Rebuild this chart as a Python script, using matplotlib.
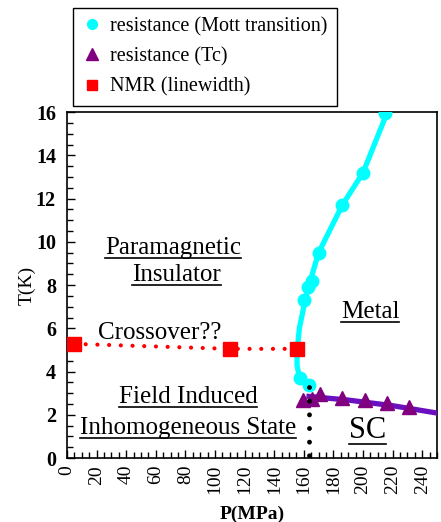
import matplotlib
matplotlib.use("Agg")
from matplotlib import pyplot as plt
from matplotlib.lines import Line2D
from matplotlib.ticker import MultipleLocator

plt.rcParams['font.family'] = ['Liberation Serif', 'DejaVu Serif']

# resistance (Mott transition) puntos
mott_p = [215, 200, 186, 170, 165.5, 163, 160, 157.4, 163.5]
mott_t = [15.95, 13.2, 11.7, 9.5, 8.2, 7.9, 7.3, 3.7, 3.38]
# curva guia
mott_curve_p = [217, 200, 186, 170, 163.5, 160, 157, 155.5, 155.4, 156.5, 157.4, 160, 163.5]
mott_curve_t = [16.1, 13.2, 11.7, 9.5, 8.0, 7.0, 6.0, 5.0, 4.3, 3.9, 3.7, 3.5, 3.38]

# resistance (Tc)
tc_p = [159.5, 165.5, 171, 186, 201, 216, 231]
tc_t = [2.68, 2.75, 2.95, 2.78, 2.68, 2.55, 2.36]
tc_curve_p = [163.5, 190, 220, 250]
tc_curve_t = [2.85, 2.68, 2.42, 2.08]

# NMR (linewidth)
nmr_p = [4.7, 110, 155.4]
nmr_t = [5.28, 5.05, 5.05]

# linea punteada vertical
vert_p = [163.5, 163.5]
vert_t = [3.3, 0.0]

fig = plt.figure(figsize=(4.41, 5.22), dpi=100)
ax = fig.add_axes([0.152, 0.1226, 0.839, 0.6625])

ax.plot(mott_curve_p, mott_curve_t, color='#00ffff', lw=3.8, solid_capstyle='round', zorder=3)
ax.plot(mott_p, mott_t, 'o', color='#00ffff', ms=9, zorder=4)

ax.plot(tc_curve_p, tc_curve_t, color='#6a10c0', lw=3.8, zorder=3)
ax.plot(tc_p, tc_t, '^', color='#800080', ms=10, zorder=4)

ax.plot(nmr_p, nmr_t, color='red', lw=3, linestyle=(0, (0.01, 2.8)), dash_capstyle='round', zorder=2)
ax.plot(nmr_p, nmr_t, 's', color='red', ms=10, zorder=4)

ax.plot(vert_p, vert_t, color='black', lw=3.5, linestyle=(0, (0.01, 2.8)), dash_capstyle='round', zorder=5)

ax.set_xlim(0, 250)
ax.set_ylim(0, 16)
ax.xaxis.set_major_locator(MultipleLocator(20))
ax.xaxis.set_minor_locator(MultipleLocator(5))
ax.yaxis.set_major_locator(MultipleLocator(2))
ax.yaxis.set_minor_locator(MultipleLocator(0.5))
ax.tick_params(which='both', direction='in', top=False, right=False, width=1)
ax.tick_params(which='major', length=6)
ax.tick_params(which='minor', length=4)
ax.tick_params(axis='x', labelsize=14, labelrotation=90, pad=5)
ax.tick_params(axis='y', labelsize=14.5, pad=8)
for lab in ax.get_yticklabels():
    lab.set_fontweight('bold')
for s in ax.spines.values():
    s.set_linewidth(1.2)

ax.set_xlabel("P(MPa)", fontsize=14, fontweight='bold', labelpad=8)
ax.set_ylabel("T(K)", fontsize=14, labelpad=0)

# textos de regiones
textos = [
    ("Paramagnetic", 71.6, 9.7, 18, True),
    ("Insulator", 74, 8.45, 18, True),
    ("Crossover??", 62.8, 5.8, 18, False),
    ("Metal", 204.7, 6.76, 18, True),
    ("Field Induced", 81.8, 2.83, 18, True),
    ("Inhomogeneous State", 81.8, 1.39, 18, True),
    ("SC", 203, 1.25, 22, True),
]
objs = []
for txt, px, ty, fs, sub in textos:
    t = ax.text(px, ty, txt, fontsize=fs, ha='center', va='center', zorder=6)
    objs.append((t, sub))

handles = [
    Line2D([], [], marker='o', color='#00ffff', ls='none', ms=7),
    Line2D([], [], marker='^', color='#800080', ls='none', ms=8),
    Line2D([], [], marker='s', color='red', ls='none', ms=7),
]
labels = ["resistance (Mott transition)", "resistance (Tc)", "NMR (linewidth)"]
fig.legend(handles, labels, loc='upper left', bbox_to_anchor=(0.166, 0.985),
           fontsize=14.5, frameon=True, fancybox=False, edgecolor='black',
           framealpha=1, handlelength=1.0, handletextpad=0.4, labelspacing=0.55,
           borderpad=0.45, borderaxespad=0)

# subrayado
fig.canvas.draw()
r = fig.canvas.get_renderer()
for t, sub in objs:
    if not sub:
        continue
    bb = t.get_window_extent(renderer=r)
    x0, x1 = bb.x0 / fig.bbox.width, bb.x1 / fig.bbox.width
    y = (bb.y0 + 1) / fig.bbox.height
    fig.add_artist(Line2D([x0, x1], [y, y], color='black', lw=1.2, transform=fig.transFigure))

fig.savefig("out.png", dpi=100)
